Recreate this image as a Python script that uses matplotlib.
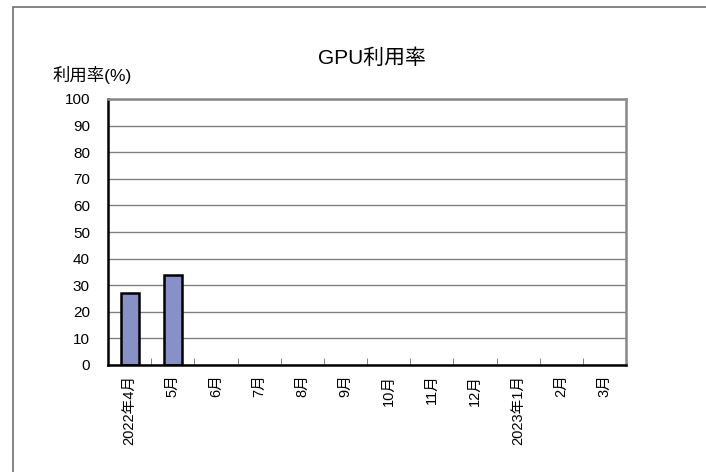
import numpy as np
import matplotlib.pyplot as plt
from matplotlib.patches import Rectangle

plt.rcParams['font.family'] = ['Liberation Sans', 'Noto Sans CJK JP', 'DejaVu Sans']

months = ['2022年4月', '5月', '6月', '7月', '8月', '9月', '10月', '11月', '12月',
          '2023年1月', '2月', '3月']
usage = [27, 34, 0, 0, 0, 0, 0, 0, 0, 0, 0, 0]

fig = plt.figure(figsize=(7.06, 4.72), dpi=100)
# outer chart border (only left/top visible inside the image)
fig.add_artist(Rectangle((13 / 706, -0.1), 1.2, (472 - 7) / 472 + 0.1,
                         transform=fig.transFigure, fill=False,
                         edgecolor='#707070', linewidth=1.2))

ax = fig.add_axes([108 / 706, (472 - 365) / 472, (626 - 108) / 706, (365 - 99) / 472])
x = np.arange(len(months))
edge_w = [1.8 if v > 0 else 0 for v in usage]
ax.bar(x, usage, width=0.42, color='#8890c8', edgecolor='black', linewidth=edge_w, zorder=3)

ax.set_xlim(-0.5, len(months) - 0.5)
ax.set_ylim(0, 100)
ax.set_yticks(range(0, 101, 10))
ax.yaxis.grid(True, color='#808080', linewidth=1.0, zorder=0)
ax.tick_params(axis='y', length=0, labelsize=11, pad=13)

ax.set_xticks(x)
ax.set_xticklabels(months, rotation=90, fontsize=10.5, va='top')
ax.tick_params(axis='x', which='major', length=0, pad=7)
ax.set_xticks(np.arange(0.5, len(months) - 0.5, 1), minor=True)
ax.tick_params(axis='x', which='minor', direction='in', length=5, color='#707070')

for s in ['left', 'bottom']:
    ax.spines[s].set_color('black')
    ax.spines[s].set_linewidth(1.8)
for s in ['top', 'right']:
    ax.spines[s].set_color('#888888')
    ax.spines[s].set_linewidth(1.8)
ax.spines['bottom'].set_zorder(4)

fig.text(372 / 706, 1 - 58 / 472, 'GPU利用率', ha='center', va='center', fontsize=15)
fig.text(92 / 706, 1 - 75 / 472, '利用率(%)', ha='center', va='center', fontsize=12.5)

fig.savefig('out.png', dpi=100)
